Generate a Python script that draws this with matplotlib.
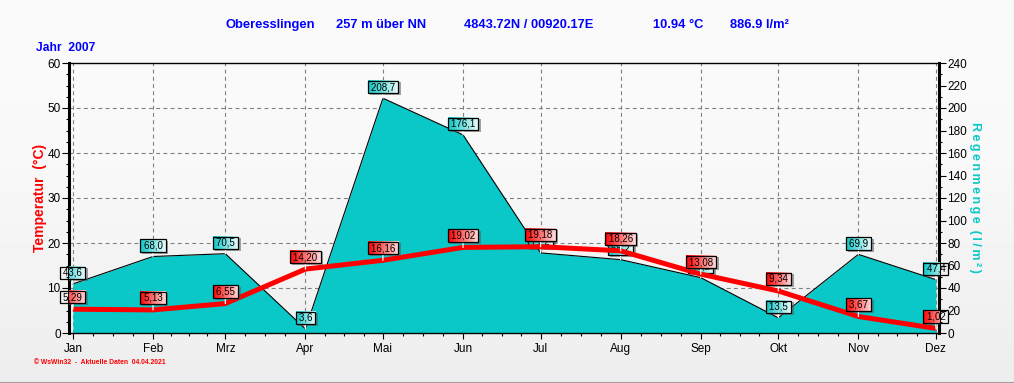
import numpy as np
import matplotlib
matplotlib.use("Agg")
import matplotlib.pyplot as plt
from matplotlib.image import BboxImage
from matplotlib.transforms import Bbox

# Wetterdaten Oberesslingen 2007
monate = ["Jan", "Feb", "Mrz", "Apr", "Mai", "Jun", "Jul", "Aug", "Sep", "Okt", "Nov", "Dez"]
monat_tag = [0, 31, 59, 90, 120, 151, 181, 212, 243, 273, 304, 334]
temperatur = [5.29, 5.13, 6.55, 14.20, 16.16, 19.02, 19.18, 18.26, 13.08, 9.34, 3.67, 1.02]
regen = [43.6, 68.0, 70.5, 3.6, 208.7, 176.1, 71.2, 65.2, 49.2, 13.5, 69.9, 47.4]
temp_ticks = [0, 10, 20, 30, 40, 50, 60]
regen_ticks = list(range(0, 241, 20))

W, H = 1014, 383
plt.rcParams["font.family"] = ["Liberation Sans", "DejaVu Sans"]

fig = plt.figure(figsize=(W / 100, H / 100), dpi=100)

# Hintergrund mit leichtem Verlauf
bg_ax = fig.add_axes([0, 0, 1, 1], zorder=-1)
verlauf = np.interp(np.linspace(0, 1, H), [0, 0.4, 1], [0.98, 0.975, 0.93]).reshape(-1, 1)
bg_ax.imshow(verlauf, cmap="gray", vmin=0, vmax=1, aspect="auto")
bg_ax.axis("off")
fig.add_artist(plt.Line2D([0, 1], [1.5 / H, 1.5 / H], color="#a0a0a0", lw=0.8))
fig.add_artist(plt.Line2D([1 - 0.5 / W, 1 - 0.5 / W], [0, 1], color="#c8c8c8", lw=0.8))

links, rechts, oben, unten = 69, 939, 63, 333
rect = [links / W, 1 - unten / H, (rechts - links) / W, (unten - oben) / H]
ax_regen = fig.add_axes(rect, facecolor="none")
ax_temp = fig.add_axes(rect, facecolor="none")
ax_regen.set_zorder(1)
ax_temp.set_zorder(2)

xlim = (-1.5, 335.2)
for a in (ax_regen, ax_temp):
    a.set_xlim(xlim)
ax_temp.set_ylim(0, 60)
ax_regen.set_ylim(0, 240)

# Gitter liegt unter der Regenflaeche
for t in temp_ticks[1:-1]:
    ax_regen.axhline(t * 4, color="#808080", lw=0.8, ls=(0, (3.5, 3)), zorder=1)
for m in monat_tag:
    ax_regen.axvline(m, color="#808080", lw=0.8, ls=(0, (3.5, 3)), zorder=1)

ax_regen.fill_between(monat_tag, regen, 0, color="#0ac8c8", lw=0, zorder=2)
ax_regen.plot(monat_tag, regen, color="black", lw=0.8, zorder=3)
ax_temp.plot(monat_tag, temperatur, color="#ff0000", lw=3.6, solid_joinstyle="round",
             solid_capstyle="butt", zorder=3)

# Achsen
ax_temp.set_xticks(monat_tag)
ax_temp.set_xticklabels(monate, fontsize=8.5)
viertel = [monat_tag[i] + (monat_tag[i + 1] - monat_tag[i]) * k / 4
           for i in range(len(monat_tag) - 1) for k in (1, 2, 3)]
ax_temp.set_xticks(viertel, minor=True)
ax_temp.tick_params(axis="x", which="major", length=4, width=0.8, pad=3)
ax_temp.tick_params(axis="x", which="minor", length=2, width=0.8)
ax_temp.set_yticks(temp_ticks)
ax_temp.set_yticks(np.arange(0, 60.1, 2.5), minor=True)
ax_temp.tick_params(axis="y", which="major", length=5, width=0.8, labelsize=8.5, pad=1)
ax_temp.tick_params(axis="y", which="minor", length=2, width=0.8)

ax_regen.xaxis.set_visible(False)
ax_regen.yaxis.tick_right()
ax_regen.set_yticks(regen_ticks)
ax_regen.set_yticks(range(0, 241, 10), minor=True)
ax_regen.tick_params(axis="y", which="major", length=5, width=0.8, labelsize=8.5, pad=1)
ax_regen.tick_params(axis="y", which="minor", length=2, width=0.8)

# Rahmen gehoert zur unteren Achse, damit die Wertefelder ihn verdecken
for s in ax_temp.spines.values():
    s.set_visible(False)
for s in ("top", "bottom"):
    ax_regen.spines[s].set_linewidth(1.0)
ax_regen.spines["left"].set_linewidth(2.2)
ax_regen.spines["right"].set_linewidth(2.2)

# Beschriftungen
blau = "#0000ff"
titel = [("Oberesslingen", 226), ("257 m über NN", 336), ("4843.72N / 00920.17E", 464),
         ("10.94 °C", 653), ("886.9 l/m²", 730)]
for txt, x in titel:
    fig.text(x / W, 1 - 25 / H, txt, color=blau, fontsize=9.3, fontweight="bold",
             va="center", ha="left")
fig.text(36 / W, 1 - 48 / H, "Jahr  2007", color=blau, fontsize=8.7, fontweight="bold",
         va="center", ha="left")
fig.text(40 / W, 1 - 198 / H, "Temperatur  (°C)", color="#ff0000", fontsize=10, fontweight="bold",
         rotation=90, va="center", ha="center")
fig.text(975 / W, 1 - 197 / H, "R\u2009e\u2009g\u2009e\u2009n\u2009m\u2009e\u2009n\u2009g\u2009e  (\u2009l\u2009/\u2009m\u2009²\u2009)",
         color="#0ac8c8", fontsize=9, fontweight="bold", rotation=-90, va="center", ha="center")
fig.text(34 / W, 1 - 363 / H, "© WsWin32  -  Aktuelle Daten  04.04.2021", color="#ff0000",
         fontsize=4.9, fontweight="bold", va="center", ha="left")


def werte_labels(ax, x, y, texte, farbe, offset, z):
    labels = []
    for xi, yi, t in zip(x, y, texte):
        an = ax.annotate(f"\u2009{t}\u2009", (xi, yi), xytext=(0, offset), textcoords="offset pixels",
                         ha="center", va="center", fontsize=7, color="black", zorder=z + 2,
                         bbox=dict(boxstyle="square,pad=0.12", fc="none", ec="black", lw=0.9),
                         arrowprops=dict(arrowstyle="-", color="white", lw=0.9, shrinkA=0, shrinkB=0))
        labels.append(an)
    fig.canvas.draw()
    r = fig.canvas.get_renderer()
    farben = np.array(farbe, dtype=float)
    verl = np.linspace(0, 1, 64)[:, None] * (farben[1] - farben[0]) + farben[0]
    grad = verl[None, :, :]
    schatten = np.array([[[0.35, 0.35, 0.35, 0.55]]])
    for an in labels:
        b = an.get_bbox_patch().get_window_extent(r)
        sb = Bbox.from_extents(b.x0 + 2, b.y0 - 2, b.x1 + 2, b.y1 - 2)
        s_img = BboxImage(sb, zorder=z, interpolation="nearest")
        s_img.set_data(schatten)
        ax.add_artist(s_img)
        img = BboxImage(Bbox.from_extents(b.x0, b.y0, b.x1, b.y1), zorder=z + 1, interpolation="bilinear")
        img.set_data(grad)
        ax.add_artist(img)


werte_labels(ax_regen, monat_tag, regen, [f"{v:.1f}".replace(".", ",") for v in regen],
             ([0.04, 0.78, 0.78], [0.93, 0.99, 0.99]), 11, 4)
werte_labels(ax_temp, monat_tag, temperatur, [f"{v:.2f}".replace(".", ",") for v in temperatur],
             ([1, 0, 0], [1, 0.87, 0.87]), 12, 4)

fig.savefig("out.png", dpi=100)
